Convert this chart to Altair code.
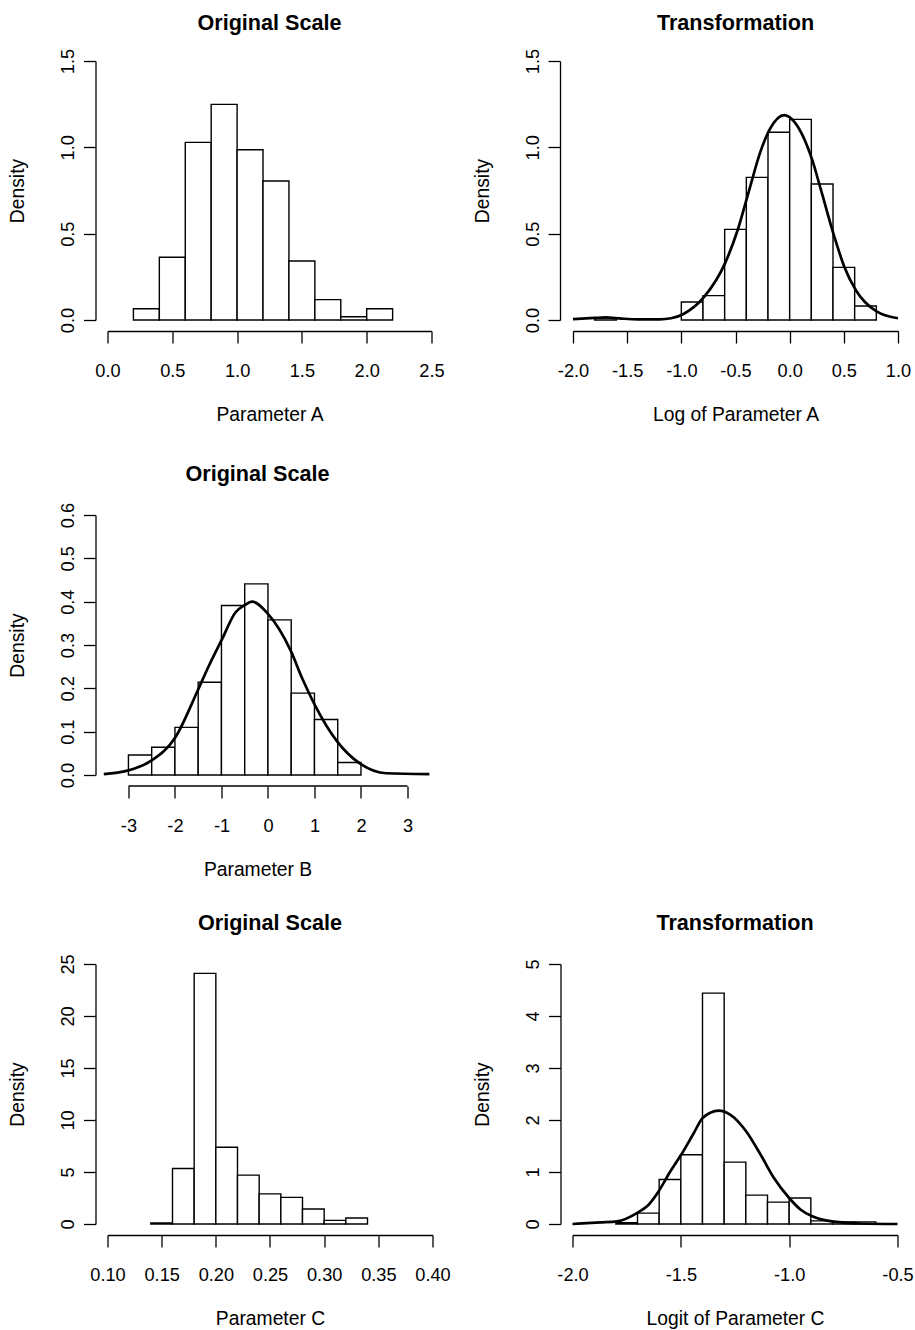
import altair as alt
import pandas as pd

FONT = "Liberation Sans"

# ---------------- Parameter A (original scale) ----------------
A_left = [0.2, 0.4, 0.6, 0.8, 1.0, 1.2, 1.4, 1.6, 1.8, 2.0]
A_dens = [0.065, 0.363, 1.029, 1.249, 0.986, 0.805, 0.342, 0.118, 0.019, 0.065]
A_width = 0.2
A_xticks = [0.0, 0.5, 1.0, 1.5, 2.0, 2.5]
A_yticks = [0.0, 0.5, 1.0, 1.5]

# ---------------- Log of Parameter A ----------------
logA_left = [-1.8, -1.0, -0.8, -0.6, -0.4, -0.2, 0.0, 0.2, 0.4, 0.6]
logA_dens = [0.012, 0.104, 0.141, 0.525, 0.826, 1.087, 1.162, 0.788, 0.305, 0.081]
logA_width = 0.2
logA_curve_x = [-2.0, -1.8, -1.7, -1.55, -1.4, -1.2, -1.095, -0.98, -0.788, -0.597,
                -0.48, -0.382, -0.265, -0.179, -0.05, 0.043, 0.209, 0.289, 0.412,
                0.504, 0.61, 0.806, 1.0]
logA_curve_y = [0.005, 0.012, 0.015, 0.008, 0.004, 0.004, 0.01, 0.035, 0.135, 0.328,
                0.521, 0.734, 0.984, 1.11, 1.187, 1.148, 0.926, 0.753, 0.483,
                0.309, 0.174, 0.048, 0.01]
logA_xticks = [-2.0, -1.5, -1.0, -0.5, 0.0, 0.5, 1.0]

# ---------------- Parameter B ----------------
B_left = [-3.0, -2.5, -2.0, -1.5, -1.0, -0.5, 0.0, 0.5, 1.0, 1.5]
B_dens = [0.046, 0.064, 0.110, 0.214, 0.391, 0.441, 0.358, 0.189, 0.128, 0.029]
B_width = 0.5
B_curve_x = [-3.53, -3.02, -2.51, -1.99, -1.51, -1.27, -0.985, -0.70, -0.50, -0.34,
             0.0, 0.489, 0.74, 1.006, 1.49, 1.998, 2.54, 3.47]
B_curve_y = [0.002, 0.010, 0.033, 0.087, 0.195, 0.252, 0.314, 0.375, 0.392, 0.400,
             0.372, 0.287, 0.222, 0.162, 0.077, 0.025, 0.004, 0.002]
B_xticks = [-3, -2, -1, 0, 1, 2, 3]
B_yticks = [0.0, 0.1, 0.2, 0.3, 0.4, 0.5, 0.6]
B_xlim_lo = -3.45   # left edge of the plotting region (R pads the x range)

# ---------------- Parameter C ----------------
C_left = [0.14, 0.16, 0.18, 0.20, 0.22, 0.24, 0.26, 0.28, 0.30, 0.32]
C_dens = [0.1, 5.33, 24.1, 7.38, 4.7, 2.9, 2.56, 1.44, 0.35, 0.57]
C_width = 0.02
C_xticks = [0.10, 0.15, 0.20, 0.25, 0.30, 0.35, 0.40]
C_yticks = [0, 5, 10, 15, 20, 25]

# ---------------- Logit of Parameter C ----------------
logitC_left = [-1.8, -1.7, -1.6, -1.5, -1.4, -1.3, -1.2, -1.1, -1.0, -0.9, -0.8, -0.7]
logitC_dens = [0.025, 0.21, 0.855, 1.333, 4.44, 1.19, 0.556, 0.42, 0.50, 0.06, 0.04, 0.04]
logitC_width = 0.1
logitC_curve_x = [-2.0, -1.871, -1.794, -1.699, -1.655, -1.602, -1.548, -1.498, -1.44,
                  -1.399, -1.325, -1.271, -1.198, -1.132, -1.071, -1.0, -0.948, -0.896,
                  -0.794, -0.671, -0.5]
logitC_curve_y = [0.0, 0.03, 0.05, 0.22, 0.345, 0.632, 1.015, 1.335, 1.75,
                  2.04, 2.18, 2.10, 1.78, 1.335, 0.89, 0.50, 0.28, 0.153,
                  0.045, 0.01, 0.0]
logitC_xticks = [-2.0, -1.5, -1.0, -0.5]
logitC_yticks = [0, 1, 2, 3, 4, 5]

LABEL_EXPR = "replace(datum.label, '\u2212', '-')"
AXIS_GAP = 11


def panel(title, xtitle, left, dens, width, xticks, yticks, xfmt, yfmt,
          w, h, yoff, title_offset, curve=None, xlo=None):
    bars = pd.DataFrame({
        "lo": left,
        "hi": [v + width for v in left],
        "d": dens,
        "z": [0] * len(left),
    })
    xmin = xticks[0] if xlo is None else xlo
    xs = alt.Scale(domain=[xmin, xticks[-1]], nice=False, zero=False)
    ys = alt.Scale(domain=[yticks[0], yticks[-1]], nice=False, zero=False)
    xaxis = alt.Axis(values=xticks, format=xfmt, title=xtitle, offset=AXIS_GAP,
                     labelExpr=LABEL_EXPR, labelOverlap=False, labelFlush=False,
                     domain=(xlo is None))
    yaxis = alt.Axis(values=yticks, format=yfmt, title="Density", offset=yoff,
                     labelAngle=270, labelOverlap=False, labelFlush=False)
    bar_layer = alt.Chart(bars).mark_rect(
        fill="white", stroke="black", strokeWidth=1.4
    ).encode(
        x=alt.X("lo:Q", scale=xs, axis=xaxis),
        x2="hi:Q",
        y=alt.Y("d:Q", scale=ys, axis=yaxis),
        y2="z:Q",
    )
    layers = [bar_layer]
    if curve is not None:
        cdf = pd.DataFrame({"lo": curve[0], "d": curve[1]})
        line = alt.Chart(cdf).mark_line(
            color="black", strokeWidth=2.7, interpolate="monotone"
        ).encode(
            x=alt.X("lo:Q", scale=xs, axis=xaxis),
            y=alt.Y("d:Q", scale=ys, axis=yaxis),
        )
        layers.append(line)
    if xlo is not None:
        # axis line spanning only the first to last tick, as in R
        adf = pd.DataFrame({"lo": [xticks[0]], "hi": [xticks[-1]]})
        axis_line = alt.Chart(adf).mark_rule(
            color="black", strokeWidth=1.3
        ).encode(
            x=alt.X("lo:Q", scale=xs, axis=xaxis),
            x2="hi:Q",
            y=alt.value(h + AXIS_GAP),
        )
        layers.append(axis_line)
    ch = alt.layer(*layers).properties(
        width=w, height=h,
        title=alt.TitleParams(title, offset=title_offset),
    )
    return ch


p1 = panel("Original Scale", "Parameter A", A_left, A_dens, A_width,
           A_xticks, A_yticks, ".1f", ".1f", 324, 259, 12, 14)
p2 = panel("Transformation", "Log of Parameter A", logA_left, logA_dens, logA_width,
           logA_xticks, A_yticks, ".1f", ".1f", 325, 259, 13, 14,
           curve=(logA_curve_x, logA_curve_y))
p3 = panel("Original Scale", "Parameter B", B_left, B_dens, B_width,
           B_xticks, B_yticks, "d", ".1f", 300, 260, 12, 17,
           curve=(B_curve_x, B_curve_y), xlo=B_xlim_lo)
p5 = panel("Original Scale", "Parameter C", C_left, C_dens, C_width,
           C_xticks, C_yticks, ".2f", "d", 325, 260, 12, 19)
p6 = panel("Transformation", "Logit of Parameter C", logitC_left, logitC_dens, logitC_width,
           logitC_xticks, logitC_yticks, ".1f", "d", 325, 260, 12, 24,
           curve=(logitC_curve_x, logitC_curve_y))

row1 = alt.hconcat(p1, p2, spacing=28.5)
row3 = alt.hconcat(p5, p6, spacing=23)

top = alt.vconcat(row1, p3, spacing=38)
chart = alt.vconcat(top, row3, spacing=33).properties(
    padding={"left": 8.5, "top": 12, "right": 0, "bottom": 0}
).configure_view(stroke=None).configure_axis(
    grid=False,
    domainColor="black", domainWidth=1.3,
    tickColor="black", tickWidth=1.3, tickSize=12,
    labelColor="black", titleColor="black",
    labelFont=FONT, titleFont=FONT,
    labelFontSize=18.2, titleFontSize=19.3, titleFontWeight="normal",
).configure_axisX(
    labelPadding=19, titlePadding=26,
).configure_axisY(
    labelPadding=6, titlePadding=31,
).configure_title(
    font=FONT, fontSize=21.6, fontWeight="bold", color="black",
    anchor="middle", frame="group",
)

chart.save("out.html", embed_options={"renderer": "svg", "actions": False})
